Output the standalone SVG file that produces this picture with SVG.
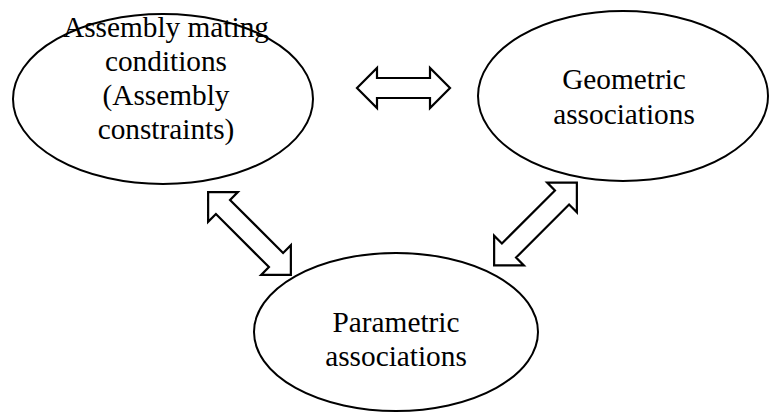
<svg xmlns="http://www.w3.org/2000/svg" width="769" height="413" viewBox="0 0 769 413">
<style>
.node ellipse{fill:#fff;stroke:#000;stroke-width:2}
.node text{font-family:"Liberation Serif","Times New Roman",serif;font-size:29.3px;fill:#000;text-anchor:middle}
.arrow{fill:#fff;stroke:#000;stroke-width:2.2;stroke-linejoin:miter}
</style>
<rect width="769" height="413" fill="#fff"/>
<g id="connectors">
<polygon class="arrow" transform="translate(403.5,88)" points="-46.5,0 -26.5,-20 -26.5,-10 26.5,-10 26.5,-20 46.5,0 26.5,20 26.5,10 -26.5,10 -26.5,20"/>
<polygon class="arrow" transform="translate(249.5,233.5) rotate(45)" points="-58.5,0 -37.5,-21 -37.5,-10 37.5,-10 37.5,-21 58.5,0 37.5,21 37.5,10 -37.5,10 -37.5,21"/>
<polygon class="arrow" transform="translate(535.5,224) rotate(-45)" points="-58.5,0 -37.5,-21 -37.5,-10 37.5,-10 37.5,-21 58.5,0 37.5,21 37.5,10 -37.5,10 -37.5,21"/>
</g>
<g id="node-assembly" class="node">
<ellipse cx="163" cy="99" rx="150" ry="85"/>
<text x="166" y="37">Assembly mating</text>
<text x="166" y="71">conditions</text>
<text x="166" y="105">(Assembly</text>
<text x="166" y="139">constraints)</text>
</g>
<g id="node-geometric" class="node">
<ellipse cx="623" cy="96" rx="145" ry="85"/>
<text x="624" y="89">Geometric</text>
<text x="624" y="124">associations</text>
</g>
<g id="node-parametric" class="node">
<ellipse cx="396" cy="332" rx="142" ry="79"/>
<text x="396" y="332">Parametric</text>
<text x="396" y="366">associations</text>
</g>
</svg>
